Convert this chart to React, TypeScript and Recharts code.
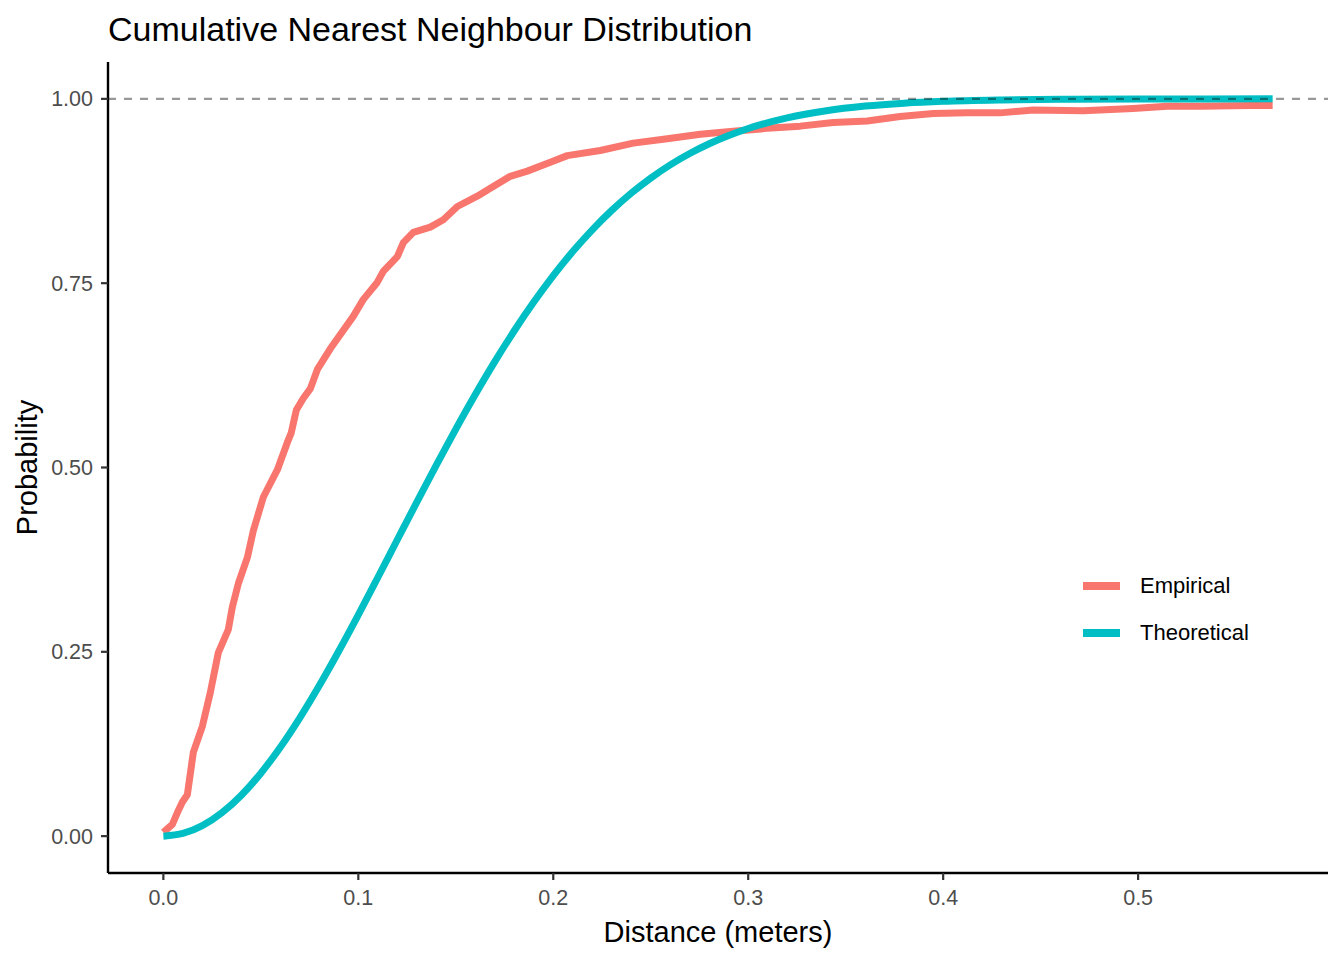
import * as React from "react";
import { LineChart, Line, XAxis, YAxis, ReferenceLine, Legend } from "recharts";

// values
const EMPIRICAL_X = [
  0, 0.0046, 0.0072, 0.0097, 0.0123, 0.0154, 0.02, 0.0241, 0.0282, 0.0333,
  0.0354, 0.0385, 0.0431, 0.0462, 0.0513, 0.0585, 0.0636, 0.0656, 0.0682,
  0.0718, 0.0754, 0.079, 0.0856, 0.0918, 0.0974, 0.1026, 0.1097, 0.1128, 0.12,
  0.1231, 0.1282, 0.1369, 0.1436, 0.1508, 0.161, 0.1692, 0.1779, 0.1867,
  0.1985, 0.2072, 0.2241, 0.241, 0.2585, 0.2754, 0.2923, 0.3097, 0.3267,
  0.3436, 0.361, 0.3779, 0.3949, 0.4123, 0.4292, 0.4462, 0.4718, 0.4974,
  0.5149, 0.5318, 0.5574, 0.569,
];
const EMPIRICAL_Y = [
  0.005, 0.016, 0.032, 0.046, 0.056, 0.114, 0.149, 0.195, 0.249, 0.28, 0.311,
  0.343, 0.378, 0.415, 0.46, 0.497, 0.534, 0.547, 0.578, 0.594, 0.607, 0.633,
  0.661, 0.684, 0.705, 0.728, 0.751, 0.766, 0.786, 0.805, 0.819, 0.826, 0.836,
  0.854, 0.868, 0.881, 0.895, 0.902, 0.914, 0.923, 0.93, 0.94, 0.946, 0.952,
  0.956, 0.96, 0.963, 0.968, 0.97, 0.976, 0.98, 0.981, 0.981, 0.985, 0.984,
  0.987, 0.99, 0.99, 0.991, 0.991,
];

const THEORETICAL_X = [
  0, 0.01, 0.02, 0.03, 0.04, 0.05, 0.06, 0.07, 0.08, 0.09, 0.1, 0.11, 0.12,
  0.13, 0.14, 0.15, 0.16, 0.17, 0.18, 0.19, 0.2, 0.21, 0.22, 0.23, 0.24, 0.25,
  0.26, 0.27, 0.28, 0.29, 0.3, 0.32, 0.34, 0.36, 0.38, 0.4, 0.43, 0.46, 0.5,
  0.569,
];
const THEORETICAL_Y = [
  0, 0.0036, 0.0142, 0.0316, 0.0555, 0.0854, 0.1206, 0.1605, 0.2043, 0.2511,
  0.3002, 0.3508, 0.402, 0.453, 0.5033, 0.5521, 0.599, 0.6436, 0.6855, 0.7244,
  0.7603, 0.7929, 0.8224, 0.8487, 0.8721, 0.8926, 0.9105, 0.9259, 0.9391,
  0.9503, 0.9598, 0.9742, 0.9839, 0.9902, 0.9942, 0.9967, 0.9986, 0.9995,
  0.9999, 1,
];

const SERIES_NAMES = ["Empirical", "Theoretical"];
const X_TICKS = [0, 0.1, 0.2, 0.3, 0.4, 0.5];
const Y_TICKS = [0, 0.25, 0.5, 0.75, 1];

const empirical = EMPIRICAL_X.map((x, i) => ({ x, y: EMPIRICAL_Y[i] }));
const theoretical = THEORETICAL_X.map((x, i) => ({ x, y: THEORETICAL_Y[i] }));

const FONT = '"Liberation Sans", Arial, sans-serif';

function renderLegend(props: any) {
  const payload = props.payload || [];
  return (
    <div style={{ fontFamily: FONT }}>
      {payload.map((entry: any) => (
        <div key={entry.value} style={{ display: "flex", alignItems: "center", height: 47 }}>
          <span style={{ width: 37, height: 8, background: entry.color, marginRight: 20 }} />
          <span style={{ fontSize: 22, color: "#000" }}>{entry.value}</span>
        </div>
      ))}
    </div>
  );
}

export default function App() {
  return (
    <div style={{ position: "absolute", left: 0, top: 0, width: 1344, height: 960, fontFamily: FONT, background: "#fff" }}>
      <LineChart width={1344} height={960} margin={{ top: 62, right: 16, bottom: 0, left: 0 }}>
        <XAxis
          type="number"
          dataKey="x"
          domain={[-0.0284, 0.5974]}
          ticks={X_TICKS}
          allowDataOverflow
          height={87}
          tickFormatter={(v: number) => v.toFixed(1)}
          axisLine={{ stroke: "#000", strokeWidth: 2.4 }}
          tickLine={{ stroke: "#333", strokeWidth: 2.2 }}
          tickSize={7}
          tickMargin={10}
          tick={{ fill: "#4D4D4D", fontSize: 21.5 }}
        />
        <YAxis
          type="number"
          domain={[-0.05, 1.05]}
          ticks={Y_TICKS}
          allowDataOverflow
          width={108}
          tickFormatter={(v: number) => v.toFixed(2)}
          axisLine={{ stroke: "#000", strokeWidth: 2.4 }}
          tickLine={{ stroke: "#333", strokeWidth: 2.2 }}
          tickSize={7}
          tickMargin={8}
          tick={{ fill: "#4D4D4D", fontSize: 21.5 }}
        />
        <Line
          data={empirical}
          dataKey="y"
          name={SERIES_NAMES[0]}
          type="linear"
          stroke="#F8766D"
          strokeWidth={7}
          strokeLinejoin="round"
          dot={false}
          activeDot={false}
          isAnimationActive={false}
        />
        <Line
          data={theoretical}
          dataKey="y"
          name={SERIES_NAMES[1]}
          type="monotone"
          stroke="#00BFC4"
          strokeWidth={7}
          strokeLinejoin="round"
          dot={false}
          activeDot={false}
          isAnimationActive={false}
        />
        <ReferenceLine y={1} stroke="#000" strokeOpacity={0.4} strokeWidth={2.2} strokeDasharray="8 8" />
        <Legend
          layout="vertical"
          align="center"
          verticalAlign="middle"
          wrapperStyle={{ left: 1083, top: 562, width: 220 }}
          content={renderLegend}
        />
      </LineChart>
      <svg width={1344} height={960} style={{ position: "absolute", left: 0, top: 0, pointerEvents: "none" }}>
        <text x={108} y={41} fontSize={34} fill="#000" fontFamily={FONT}>
          Cumulative Nearest Neighbour Distribution
        </text>
        <text x={718} y={942} fontSize={29} fill="#000" textAnchor="middle" fontFamily={FONT}>
          Distance (meters)
        </text>
        <text x={37} y={467.5} fontSize={29} fill="#000" textAnchor="middle" fontFamily={FONT} transform="rotate(-90 37 467.5)">
          Probability
        </text>
      </svg>
    </div>
  );
}
